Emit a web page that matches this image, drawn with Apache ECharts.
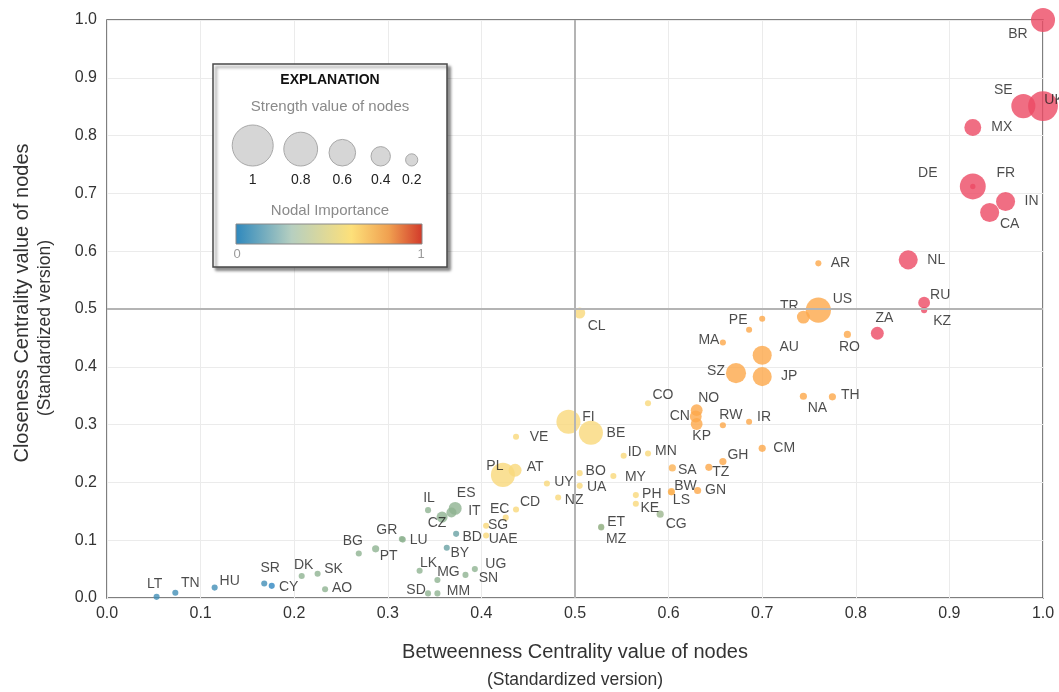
<!DOCTYPE html>
<html>
<head>
<meta charset="utf-8">
<script src="https://cdn.jsdelivr.net/npm/echarts@6/dist/echarts.min.js"></script>
<style>
html,body{margin:0;padding:0;background:#fff;}
#chart{width:1059px;height:692px;}
</style>
</head>
<body>
<div id="chart"></div>
<script>
// ---- data ----
const names = ['LT','TN','HU','SR','CY','DK','SK','AO','BG','PT','GR','LU','IL','ES','IT','CZ','BD','BY','LK','MG','SD','MM','SN','UG','SG','UAE','EC','CD','PL','AT','VE','UY','NZ','BO','UA','MY','ID','MN','PH','KE','CG','ET','MZ','CL','FI','BE','CO','NO','CN','KP','RW','IR','SA','BW','LS','GN','TZ','GH','CM','MA','PE','','SZ','AU','JP','TR','US','AR','RO','NA','TH','ZA','NL','RU','KZ','BR','UK','SE','MX','DE','FR','IN','CA'];
const betweenness = [0.053,0.073,0.115,0.168,0.176,0.208,0.225,0.233,0.269,0.287,0.315,0.316,0.343,0.372,0.368,0.358,0.373,0.363,0.334,0.353,0.343,0.353,0.383,0.393,0.405,0.405,0.426,0.437,0.423,0.436,0.437,0.470,0.482,0.505,0.505,0.541,0.552,0.578,0.565,0.565,0.591,0.528,0.528,0.505,0.493,0.517,0.578,0.630,0.629,0.630,0.658,0.686,0.604,0.603,0.603,0.631,0.643,0.658,0.700,0.658,0.700,0.686,0.672,0.700,0.700,0.744,0.760,0.760,0.791,0.744,0.775,0.823,0.856,0.873,0.873,1.000,1.000,0.979,0.925,0.925,0.925,0.960,0.943];
const closeness = [0.002,0.009,0.018,0.025,0.021,0.038,0.042,0.015,0.077,0.085,0.102,0.101,0.152,0.155,0.148,0.140,0.111,0.087,0.047,0.031,0.008,0.008,0.040,0.050,0.125,0.108,0.139,0.153,0.213,0.221,0.279,0.198,0.174,0.216,0.194,0.211,0.246,0.250,0.178,0.163,0.145,0.123,0.122,0.493,0.305,0.286,0.337,0.325,0.314,0.301,0.299,0.305,0.225,0.184,0.183,0.186,0.226,0.236,0.259,0.442,0.483,0.464,0.389,0.420,0.383,0.486,0.498,0.579,0.456,0.349,0.348,0.458,0.585,0.511,0.498,1.000,0.851,0.851,0.814,0.712,0.712,0.686,0.667];
const strength = [0.03,0.03,0.03,0.03,0.03,0.03,0.03,0.03,0.03,0.06,0.03,0.03,0.03,0.22,0.14,0.17,0.03,0.03,0.03,0.03,0.03,0.03,0.03,0.03,0.03,0.03,0.03,0.03,0.53,0.22,0.03,0.03,0.03,0.03,0.03,0.03,0.03,0.03,0.03,0.03,0.06,0.03,0.03,0.17,0.53,0.53,0.03,0.19,0.19,0.19,0.03,0.03,0.06,0.06,0.03,0.06,0.06,0.06,0.06,0.03,0.03,0.03,0.42,0.39,0.39,0.22,0.56,0.03,0.06,0.06,0.06,0.22,0.39,0.19,0.03,0.53,0.69,0.53,0.33,0.01,0.58,0.39,0.39];
const importance = [0.05,0.05,0.05,0.05,0.0,0.25,0.25,0.25,0.25,0.25,0.25,0.25,0.25,0.25,0.25,0.25,0.15,0.15,0.25,0.25,0.25,0.25,0.25,0.25,0.5,0.5,0.5,0.5,0.5,0.5,0.5,0.5,0.5,0.5,0.5,0.5,0.5,0.5,0.5,0.5,0.28,0.28,0.28,0.5,0.5,0.5,0.5,0.75,0.75,0.75,0.75,0.75,0.7,0.7,0.7,0.75,0.75,0.75,0.75,0.75,0.75,0.75,0.75,0.75,0.75,0.75,0.75,0.75,0.75,0.75,0.75,1,1,1,1,1,1,1,1,1,1,1,1];
const xTicks = ['0.0','0.1','0.2','0.3','0.4','0.5','0.6','0.7','0.8','0.9','1.0'];
const yTicks = ['0.0','0.1','0.2','0.3','0.4','0.5','0.6','0.7','0.8','0.9','1.0'];
const legendStrengths = [1, 0.8, 0.6, 0.4, 0.2];
const legendStrengthLabels = ['1','0.8','0.6','0.4','0.2'];
const importanceLabels = ['0','1'];

// ---- layout: label offsets (px) relative to each point ----
const labelOffsets = {
  LT:[-2,-13],TN:[15,-10],HU:[15,-6],SR:[6,-15],CY:[17,1],DK:[2,-11],SK:[16,-5],AO:[17,-1],
  BG:[-6,-12],PT:[13,7],GR:[-15,-9],LU:[16,1],IL:[1,-12],ES:[11,-15],IT:[23,-1],CZ:[-5,6],
  BD:[16,3],BY:[13,5],LK:[9,-8],MG:[11,-8],SD:[-12,-3],MM:[21,-2],SN:[23,3],UG:[21,-5],
  SG:[12,-1],UAE:[17,4],EC:[-6,-9],CD:[14,-7],PL:[-8,-9],AT:[20,-3],VE:[23,0],UY:[17,-1],
  NZ:[16,3],BO:[16,-2],UA:[17,1],MY:[22,1],ID:[11,-4],MN:[18,-2],PH:[16,-1],KE:[14,4],
  CG:[16,10],ET:[15,-5],MZ:[15,12],CL:[17,13],FI:[20,-5],BE:[25,0],CO:[15,-8],NO:[12,-12],
  CN:[-16,0],KP:[5,12],RW:[8,-10],IR:[15,-5],SA:[15,2],BW:[14,-6],LS:[10,8],GN:[18,0],
  TZ:[12,5],GH:[15,-6],CM:[22,0],MA:[-14,-2],PE:[-24,1],SZ:[-20,-2],AU:[27,-8],JP:[27,0],
  TR:[-14,-11],US:[24,-11],AR:[22,0],RO:[2,13],NA:[14,12],TH:[18,-2],ZA:[7,-15],NL:[28,0],
  RU:[16,-8],KZ:[18,11],BR:[-25,14],UK:[11,-6],SE:[-20,-16],MX:[29,0],DE:[-45,-13],FR:[33,-13],
  IN:[26,0],CA:[20,12]
};

const sizeOf = s => 5 + 36 * s;

const data = names.map((n, i) => {
  const off = labelOffsets[n];
  return {
    name: n,
    value: [betweenness[i], closeness[i], strength[i], importance[i]],
    label: off ? { show: true, offset: off } : { show: false }
  };
});

const font = 'Liberation Sans, Arial, sans-serif';
const TOP = { zlevel: 1, z: 100 };

// legend graphic
const lgX = [252.7, 300.7, 342.3, 380.7, 411.7];
const lgBottom = 166;
const legendChildren = [
  Object.assign({ type:'rect', shape:{x:213,y:64,width:234,height:203},
    style:{fill:'#fff',stroke:'#4a4a4a',lineWidth:1.5,shadowColor:'rgba(0,0,0,0.45)',shadowBlur:3,shadowOffsetX:3,shadowOffsetY:3} }, TOP),
  Object.assign({ type:'text', x:330, y:80, style:{text:'EXPLANATION',font:'bold 14px '+font,fill:'#111',align:'center',verticalAlign:'middle'} }, TOP),
  Object.assign({ type:'text', x:330, y:107, style:{text:'Strength value of nodes',font:'15px '+font,fill:'#8a8a8a',align:'center',verticalAlign:'middle'} }, TOP),
  Object.assign({ type:'text', x:330, y:211, style:{text:'Nodal Importance',font:'15px '+font,fill:'#8a8a8a',align:'center',verticalAlign:'middle'} }, TOP),
  Object.assign({ type:'rect', shape:{x:236,y:224,width:186,height:20},
    style:{stroke:'#888',lineWidth:1,fill:{type:'linear',x:0,y:0,x2:1,y2:0,colorStops:[
      {offset:0,color:'#2e88bd'},{offset:0.3,color:'#b6cfc0'},{offset:0.62,color:'#fde07a'},{offset:0.82,color:'#f0a050'},{offset:1,color:'#d2392a'}]}} }, TOP),
  Object.assign({ type:'text', x:237, y:254, style:{text:importanceLabels[0],font:'13px '+font,fill:'#999',align:'center',verticalAlign:'middle'} }, TOP),
  Object.assign({ type:'text', x:421, y:254, style:{text:importanceLabels[1],font:'13px '+font,fill:'#999',align:'center',verticalAlign:'middle'} }, TOP)
];
legendStrengths.forEach((s, i) => {
  const r = sizeOf(s) / 2;
  legendChildren.push(Object.assign({ type:'circle', shape:{cx:lgX[i], cy:lgBottom - r, r:r}, style:{fill:'#d6d6d6',stroke:'#a8a8a8',lineWidth:1} }, TOP));
  legendChildren.push(Object.assign({ type:'text', x:lgX[i], y:180, style:{text:legendStrengthLabels[i],font:'14px '+font,fill:'#222',align:'center',verticalAlign:'middle'} }, TOP));
});

const chart = echarts.init(document.getElementById('chart'), null, {renderer:'canvas'});
chart.setOption({
  animation: false,
  backgroundColor: '#fff',
  grid: { left:107, right:16, top:20, bottom:94, show:true, borderColor:'#555', borderWidth:1.5, backgroundColor:'transparent' },
  xAxis: {
    type:'value', min:0, max:1, interval:0.1,
    axisLine:{show:false}, axisTick:{show:false},
    splitLine:{show:true, lineStyle:{color:'#ebebeb', width:1}},
    axisLabel:{ color:'#333', fontSize:16, fontFamily:font, margin:8, formatter:(v)=> xTicks[Math.round(v*10)] }
  },
  yAxis: {
    type:'value', min:0, max:1, interval:0.1,
    axisLine:{show:false}, axisTick:{show:false},
    splitLine:{show:true, lineStyle:{color:'#ebebeb', width:1}},
    axisLabel:{ color:'#333', fontSize:16, fontFamily:font, margin:10, formatter:(v)=> yTicks[Math.round(v*10)] }
  },
  visualMap: {
    show:false, type:'continuous', min:0, max:1, dimension:3, seriesIndex:0,
    inRange:{ color:['#2f86c0','#8fb391','#f9d87a','#fca84a','#ec4a64'] }
  },
  series: [{
    type:'scatter',
    clip:false,
    data:data,
    symbolSize:(v)=> sizeOf(v[2]),
    itemStyle:{ opacity:0.8 },
    label:{ position:'inside', formatter:'{b}', color:'#1e1e1e', fontSize:14, fontFamily:font },
    emphasis:{disabled:true},
    markLine:{
      silent:true, symbol:['none','none'], label:{show:false},
      lineStyle:{color:'#b4b4b4', width:2, type:'solid'},
      data:[{xAxis:0.5},{yAxis:0.5}]
    },
    z:3
  }],
  graphic: [
    { type:'text', x:575, y:652, style:{text:'Betweenness Centrality value of nodes',font:'20px '+font,fill:'#333',align:'center',verticalAlign:'middle'} },
    { type:'text', x:575, y:680, style:{text:'(Standardized version)',font:'17.5px '+font,fill:'#333',align:'center',verticalAlign:'middle'} },
    { type:'text', x:22, y:303, rotation:Math.PI/2, style:{text:'Closeness Centrality value of nodes',font:'20px '+font,fill:'#333',align:'center',verticalAlign:'middle'} },
    { type:'text', x:45, y:328, rotation:Math.PI/2, style:{text:'(Standardized version)',font:'17.5px '+font,fill:'#333',align:'center',verticalAlign:'middle'} },
    { type:'group', children: legendChildren }
  ]
});
</script>
</body>
</html>
